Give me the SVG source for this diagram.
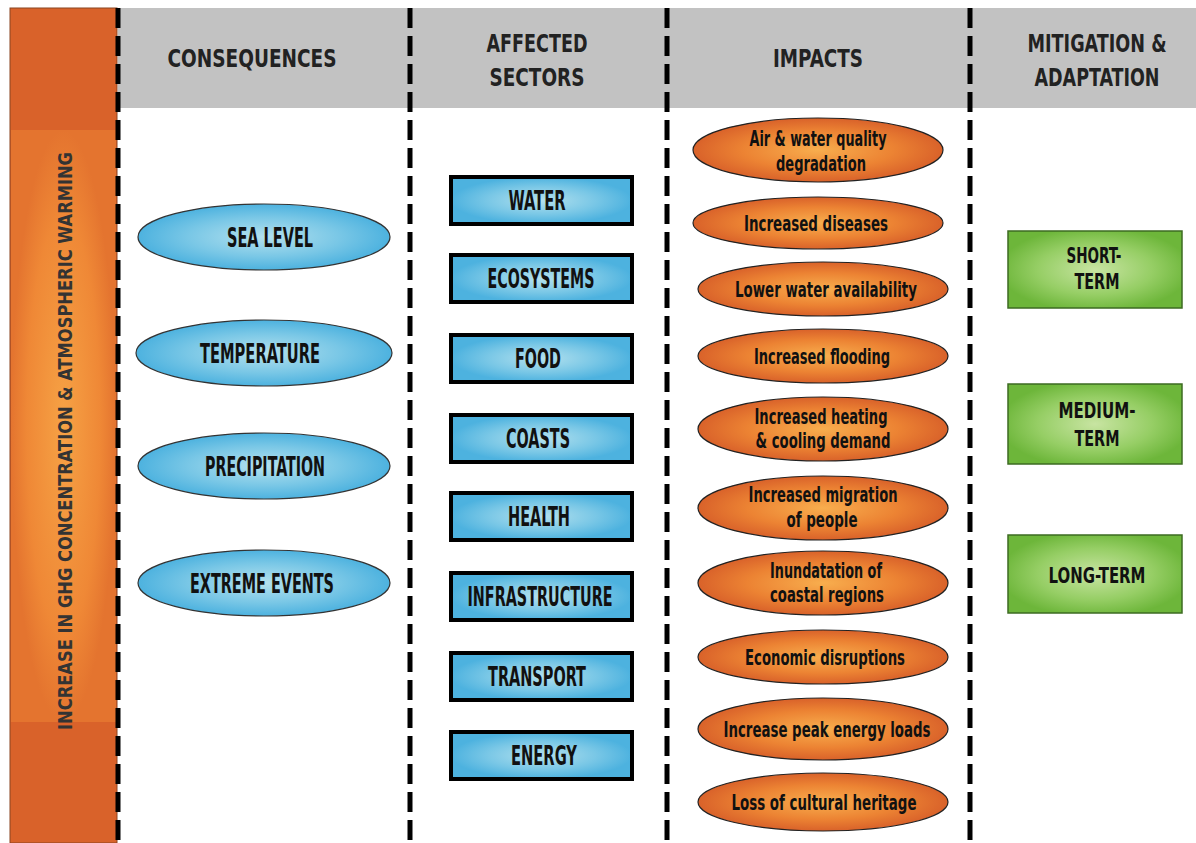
<svg xmlns="http://www.w3.org/2000/svg" width="1196" height="843" viewBox="0 0 1196 843">
<style>
text{font-family:"DejaVu Sans","Liberation Sans",sans-serif;font-stretch:condensed;fill:#111;text-anchor:middle}
.hd{font-size:24px;font-weight:bold;fill:#222}
.bt{font-size:26px;font-weight:bold}
.gt{font-size:22px;font-weight:bold}
.ot{font-size:22px;font-weight:bold}
.vt{font-size:20px;font-weight:bold;fill:#333}
.be{fill:url(#gBlue);stroke:#333;stroke-width:1.2}
.bb{fill:url(#gBlue);stroke:#000;stroke-width:4}
.oe{fill:url(#gOrange);stroke:#222;stroke-width:1.2}
.gb{fill:url(#gGreen);stroke:#3d6b22;stroke-width:1.5}
.dash{stroke:#000;stroke-width:5;stroke-dasharray:20 8;fill:none}
</style>
<defs>
<radialGradient id="gBlue" cx="50%" cy="50%" r="50%">
<stop offset="0" stop-color="#B4E1EE"/>
<stop offset="0.6" stop-color="#79C7E6"/>
<stop offset="1" stop-color="#4DB2DF"/>
</radialGradient>
<radialGradient id="gOrange" cx="50%" cy="50%" r="50%">
<stop offset="0" stop-color="#F8AE4E"/>
<stop offset="0.6" stop-color="#EC8333"/>
<stop offset="1" stop-color="#D9622A"/>
</radialGradient>
<radialGradient id="gGreen" cx="50%" cy="50%" r="55%">
<stop offset="0" stop-color="#C8E4A2"/>
<stop offset="0.6" stop-color="#96CE65"/>
<stop offset="1" stop-color="#6DB63A"/>
</radialGradient>
<radialGradient id="gBar" cx="50%" cy="50%" r="50%">
<stop offset="0" stop-color="#F6A245"/>
<stop offset="0.7" stop-color="#EF8836"/>
<stop offset="1" stop-color="#E4742F"/>
</radialGradient>
</defs>

<rect x="0" y="0" width="1196" height="843" fill="#fff"/>
<rect x="118" y="8" width="1078" height="100" fill="#C2C2C2"/>

<g id="ghg-bar">
<rect x="10" y="8" width="107" height="835" fill="#D9622A" stroke="#8a4420" stroke-width="1"/>
<rect x="11" y="130" width="105" height="592" fill="url(#gBar)"/>
<text class="vt" transform="translate(65,441) rotate(-90)" x="0" y="7" textLength="578" lengthAdjust="spacingAndGlyphs">INCREASE IN GHG CONCENTRATION &amp; ATMOSPHERIC WARMING</text>
</g>

<g id="headers">
<text class="hd" x="252" y="67" textLength="169" lengthAdjust="spacingAndGlyphs">CONSEQUENCES</text>
<text class="hd" x="537" y="52" textLength="101" lengthAdjust="spacingAndGlyphs">AFFECTED</text>
<text class="hd" x="537" y="86" textLength="95" lengthAdjust="spacingAndGlyphs">SECTORS</text>
<text class="hd" x="818" y="67" textLength="90" lengthAdjust="spacingAndGlyphs">IMPACTS</text>
<text class="hd" x="1097" y="52" textLength="139" lengthAdjust="spacingAndGlyphs">MITIGATION &amp;</text>
<text class="hd" x="1097" y="86" textLength="125" lengthAdjust="spacingAndGlyphs">ADAPTATION</text>
</g>

<g id="connectors">
<line class="dash" x1="118" y1="8" x2="118" y2="843"/>
<line class="dash" x1="410" y1="8" x2="410" y2="843"/>
<line class="dash" x1="667" y1="8" x2="667" y2="843"/>
<line class="dash" x1="970" y1="8" x2="970" y2="843"/>
</g>

<g id="c-sea-level"><ellipse class="be" cx="264" cy="237" rx="126" ry="33"/><text class="bt" x="270" y="247" textLength="86" lengthAdjust="spacingAndGlyphs">SEA LEVEL</text></g>
<g id="c-temperature"><ellipse class="be" cx="264" cy="353" rx="128" ry="33"/><text class="bt" x="260" y="363" textLength="120" lengthAdjust="spacingAndGlyphs">TEMPERATURE</text></g>
<g id="c-precipitation"><ellipse class="be" cx="264" cy="466" rx="126" ry="33"/><text class="bt" x="265" y="476" textLength="120" lengthAdjust="spacingAndGlyphs">PRECIPITATION</text></g>
<g id="c-extreme-events"><ellipse class="be" cx="264" cy="583" rx="126" ry="33"/><text class="bt" x="262" y="593" textLength="144" lengthAdjust="spacingAndGlyphs">EXTREME EVENTS</text></g>

<g id="s-water"><rect class="bb" x="451" y="177" width="181" height="47"/><text class="bt" x="537" y="210" textLength="57" lengthAdjust="spacingAndGlyphs">WATER</text></g>
<g id="s-ecosystems"><rect class="bb" x="451" y="255" width="181" height="47"/><text class="bt" x="541" y="288" textLength="107" lengthAdjust="spacingAndGlyphs">ECOSYSTEMS</text></g>
<g id="s-food"><rect class="bb" x="451" y="335" width="181" height="47"/><text class="bt" x="538" y="368" textLength="46" lengthAdjust="spacingAndGlyphs">FOOD</text></g>
<g id="s-coasts"><rect class="bb" x="451" y="415" width="181" height="47"/><text class="bt" x="538" y="448" textLength="64" lengthAdjust="spacingAndGlyphs">COASTS</text></g>
<g id="s-health"><rect class="bb" x="451" y="493" width="181" height="47"/><text class="bt" x="539" y="526" textLength="62" lengthAdjust="spacingAndGlyphs">HEALTH</text></g>
<g id="s-infrastructure"><rect class="bb" x="451" y="573" width="181" height="47"/><text class="bt" x="540" y="606" textLength="145" lengthAdjust="spacingAndGlyphs">INFRASTRUCTURE</text></g>
<g id="s-transport"><rect class="bb" x="451" y="653" width="181" height="47"/><text class="bt" x="537" y="686" textLength="98" lengthAdjust="spacingAndGlyphs">TRANSPORT</text></g>
<g id="s-energy"><rect class="bb" x="451" y="732" width="181" height="47"/><text class="bt" x="544" y="765" textLength="66" lengthAdjust="spacingAndGlyphs">ENERGY</text></g>

<g id="i-air-water"><ellipse class="oe" cx="818" cy="150" rx="125" ry="32"/><text class="ot" x="818" y="146" textLength="137" lengthAdjust="spacingAndGlyphs">Air &amp; water quality</text><text class="ot" x="821" y="171" textLength="90" lengthAdjust="spacingAndGlyphs">degradation</text></g>
<g id="i-diseases"><ellipse class="oe" cx="818" cy="223" rx="125" ry="26"/><text class="ot" x="816" y="231" textLength="144" lengthAdjust="spacingAndGlyphs">Increased diseases</text></g>
<g id="i-water-availability"><ellipse class="oe" cx="823" cy="289" rx="125" ry="27"/><text class="ot" x="826" y="297" textLength="182" lengthAdjust="spacingAndGlyphs">Lower water availability</text></g>
<g id="i-flooding"><ellipse class="oe" cx="823" cy="356" rx="125" ry="27"/><text class="ot" x="822" y="364" textLength="136" lengthAdjust="spacingAndGlyphs">Increased flooding</text></g>
<g id="i-heating-cooling"><ellipse class="oe" cx="823" cy="429" rx="125" ry="32"/><text class="ot" x="821" y="424" textLength="133" lengthAdjust="spacingAndGlyphs">Increased heating</text><text class="ot" x="823" y="448" textLength="135" lengthAdjust="spacingAndGlyphs">&amp; cooling demand</text></g>
<g id="i-migration"><ellipse class="oe" cx="823" cy="508" rx="125" ry="32"/><text class="ot" x="823" y="502" textLength="149" lengthAdjust="spacingAndGlyphs">Increased migration</text><text class="ot" x="822" y="527" textLength="71" lengthAdjust="spacingAndGlyphs">of people</text></g>
<g id="i-inundation"><ellipse class="oe" cx="823" cy="583" rx="125" ry="32"/><text class="ot" x="826" y="578" textLength="112" lengthAdjust="spacingAndGlyphs">Inundatation of</text><text class="ot" x="827" y="602" textLength="114" lengthAdjust="spacingAndGlyphs">coastal regions</text></g>
<g id="i-economic"><ellipse class="oe" cx="823" cy="657" rx="125" ry="27"/><text class="ot" x="825" y="665" textLength="160" lengthAdjust="spacingAndGlyphs">Economic disruptions</text></g>
<g id="i-peak-energy"><ellipse class="oe" cx="823" cy="729" rx="125" ry="31"/><text class="ot" x="827" y="737" textLength="207" lengthAdjust="spacingAndGlyphs">Increase peak energy loads</text></g>
<g id="i-cultural-heritage"><ellipse class="oe" cx="823" cy="802" rx="125" ry="29"/><text class="ot" x="824" y="810" textLength="185" lengthAdjust="spacingAndGlyphs">Loss of cultural heritage</text></g>

<g id="m-short-term"><rect class="gb" x="1008" y="231" width="174" height="77"/><text class="gt" x="1094" y="263" textLength="55" lengthAdjust="spacingAndGlyphs">SHORT-</text><text class="gt" x="1097" y="289" textLength="45" lengthAdjust="spacingAndGlyphs">TERM</text></g>
<g id="m-medium-term"><rect class="gb" x="1008" y="384" width="174" height="80"/><text class="gt" x="1097" y="418" textLength="77" lengthAdjust="spacingAndGlyphs">MEDIUM-</text><text class="gt" x="1097" y="446" textLength="45" lengthAdjust="spacingAndGlyphs">TERM</text></g>
<g id="m-long-term"><rect class="gb" x="1008" y="535" width="174" height="78"/><text class="gt" x="1097" y="583" textLength="97" lengthAdjust="spacingAndGlyphs">LONG-TERM</text></g>
</svg>
